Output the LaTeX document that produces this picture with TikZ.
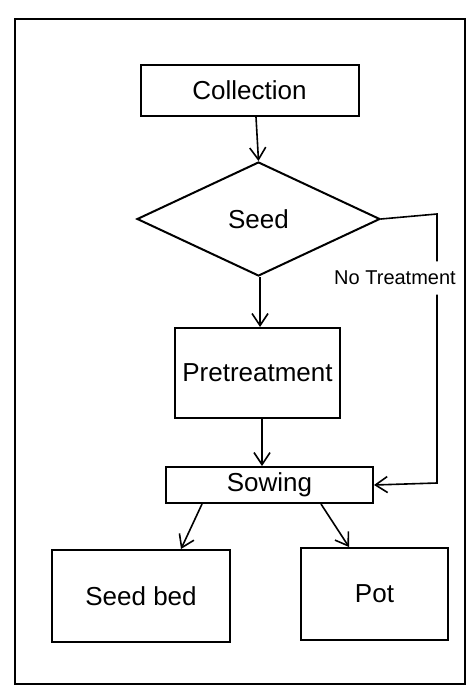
\documentclass[tikz,border=0pt]{standalone}
\usepackage{fontspec}
\setmainfont{Liberation Sans}
\usetikzlibrary{shapes.geometric,arrows.meta}
\begin{document}
\begin{tikzpicture}[x=1pt,y=-1pt,
  every node/.style={font=\fontsize{26}{30}\selectfont},
  box/.style={draw,line width=2pt,rectangle,inner sep=0pt},
  dia/.style={draw,line width=2pt,diamond,inner sep=0pt},
  conn/.style={line width=1.6pt,-{Straight Barb[length=12pt,width=16pt,line width=1.6pt]}},
  plain/.style={line width=1.6pt}]
\useasboundingbox (0,0) rectangle (471,688);
\draw[line width=2pt] (15,19) rectangle (465,684);
\node[box,minimum width=218pt,minimum height=51pt] (coll) at (249.5,90.5) {Collection};
\node[dia,minimum width=243pt,minimum height=114pt] (seed) at (258.5,219) {Seed};
\node[box,minimum width=165pt,minimum height=90pt] (pre) at (257.5,373) {Pretreatment};
\node[box,minimum width=207pt,minimum height=36pt] (sow) at (269.5,485) {Sowing};
\node[box,minimum width=178pt,minimum height=92pt] (bed) at (141,596) {Seed bed};
\node[box,minimum width=147pt,minimum height=92pt] (pot) at (374.5,594) {Pot};
\node[font=\fontsize{20}{24}\selectfont,inner sep=2pt,minimum height=33pt] (ntl) at (395,278) {No Treatment};
\coordinate (nt) at (437,214);
\coordinate (nt2) at (437,483);
\draw[conn] ([xshift=6.5pt]coll.south) -- (seed.north);
\draw[conn] ([xshift=1.5pt]seed.south) -- ([xshift=2.5pt]pre.north);
\draw[conn] ([xshift=4.5pt]pre.south) -- ([xshift=-7.5pt]sow.north);
\draw[plain] (seed.east) -- (nt) -- (ntl.north -| nt);
\draw[conn] (ntl.south -| nt) -- (nt2) -- (sow.east);
\draw[conn] ([xshift=37pt]sow.south west) -- ([xshift=-50pt]bed.north east);
\draw[conn] ([xshift=-53pt]sow.south east) -- ([xshift=49pt]pot.north west);
\end{tikzpicture}
\end{document}
